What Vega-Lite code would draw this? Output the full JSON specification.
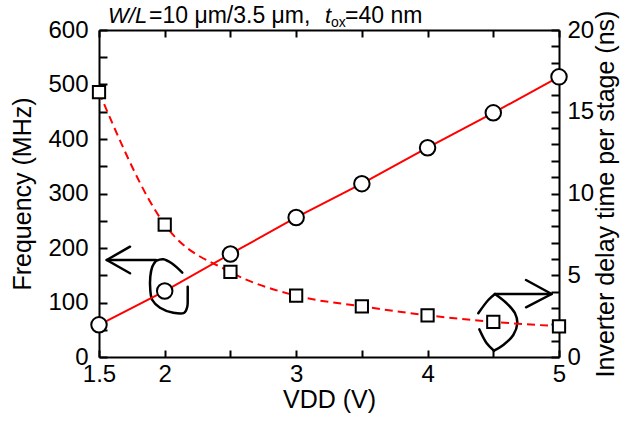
{
  "$schema": "https://vega.github.io/schema/vega-lite/v6.json",
  "width": 460,
  "height": 327,
  "autosize": {"type": "none"},
  "padding": {"left": 99, "top": 30, "right": 74, "bottom": 64},
  "background": "white",
  "config": {
    "view": {"stroke": null},
    "font": "Liberation Sans",
    "axis": {
      "domainColor": "black", "domainWidth": 2, "tickColor": "black", "tickWidth": 2,
      "labelColor": "black", "titleColor": "black", "labelFont": "Liberation Sans", "titleFont": "Liberation Sans",
      "labelFontSize": 24, "titleFontSize": 25, "titleFontWeight": "normal", "grid": false,
      "labelFlush": false, "labelOverlap": false
    }
  },
  "datasets": {
    "freq": [
      {"vdd": 1.5, "freq": 59}, {"vdd": 2, "freq": 121}, {"vdd": 2.5, "freq": 189}, {"vdd": 3, "freq": 256},
      {"vdd": 3.5, "freq": 318}, {"vdd": 4, "freq": 384}, {"vdd": 4.5, "freq": 448}, {"vdd": 5, "freq": 514}
    ],
    "delay": [
      {"vdd": 1.5, "delay": 16.2}, {"vdd": 2, "delay": 8.1}, {"vdd": 2.5, "delay": 5.2}, {"vdd": 3, "delay": 3.75},
      {"vdd": 3.5, "delay": 3.1}, {"vdd": 4, "delay": 2.55}, {"vdd": 4.5, "delay": 2.15}, {"vdd": 5, "delay": 1.88}
    ],
    "arrowsF": [
      {"path": "shaft", "seq": 0, "vdd": 1.5586, "freq": 178.0}, {"path": "shaft", "seq": 1, "vdd": 1.9337, "freq": 178.0},
      {"path": "head", "seq": 0, "vdd": 1.736, "freq": 202.4}, {"path": "head", "seq": 1, "vdd": 1.5586, "freq": 178.0}, {"path": "head", "seq": 2, "vdd": 1.736, "freq": 153.6}
    ],
    "curvesF": [
      {"path": "hook", "seq": 0, "vdd": 2.1338, "freq": 154.7}, {"path": "hook", "seq": 1, "vdd": 2.0531, "freq": 171.9},
      {"path": "hook", "seq": 2, "vdd": 1.9892, "freq": 179.3}, {"path": "hook", "seq": 3, "vdd": 1.9337, "freq": 176.7},
      {"path": "body", "seq": 0, "vdd": 1.9337, "freq": 176.7}, {"path": "body", "seq": 1, "vdd": 1.9055, "freq": 165.7},
      {"path": "body", "seq": 2, "vdd": 1.8903, "freq": 147.3}, {"path": "body", "seq": 3, "vdd": 1.8903, "freq": 122.9},
      {"path": "body", "seq": 4, "vdd": 1.9055, "freq": 104.6}, {"path": "body", "seq": 5, "vdd": 1.9641, "freq": 90.5},
      {"path": "body", "seq": 6, "vdd": 2.0653, "freq": 81.3}, {"path": "body", "seq": 7, "vdd": 2.149, "freq": 81.3},
      {"path": "body", "seq": 8, "vdd": 2.1718, "freq": 92.3}, {"path": "body", "seq": 9, "vdd": 2.1749, "freq": 110.6},
      {"path": "body", "seq": 10, "vdd": 2.1749, "freq": 129.0}
    ],
    "arrowsD": [
      {"path": "shaft", "seq": 0, "vdd": 4.513, "delay": 3.853}, {"path": "shaft", "seq": 1, "vdd": 4.9444, "delay": 3.853},
      {"path": "head", "seq": 0, "vdd": 4.7489, "delay": 4.709}, {"path": "head", "seq": 1, "vdd": 4.9444, "delay": 3.853}, {"path": "head", "seq": 2, "vdd": 4.7489, "delay": 3.04}
    ],
    "curvesD": [
      {"path": "upper", "seq": 0, "vdd": 4.3859, "delay": 2.673}, {"path": "upper", "seq": 1, "vdd": 4.462, "delay": 3.486}, {"path": "upper", "seq": 2, "vdd": 4.513, "delay": 3.853},
      {"path": "arc", "seq": 0, "vdd": 4.513, "delay": 3.853}, {"path": "arc", "seq": 1, "vdd": 4.6021, "delay": 3.284},
      {"path": "arc", "seq": 2, "vdd": 4.6652, "delay": 2.673}, {"path": "arc", "seq": 3, "vdd": 4.6827, "delay": 2.061},
      {"path": "arc", "seq": 4, "vdd": 4.6523, "delay": 1.346}, {"path": "arc", "seq": 5, "vdd": 4.5762, "delay": 0.734},
      {"path": "arc", "seq": 6, "vdd": 4.5054, "delay": 0.385},
      {"path": "lower", "seq": 0, "vdd": 4.5054, "delay": 0.385}, {"path": "lower", "seq": 1, "vdd": 4.4498, "delay": 0.838}, {"path": "lower", "seq": 2, "vdd": 4.3935, "delay": 1.694}
    ],
    "caption": [
      {"part": "it", "text": "W/L", "vdd": 1.5685, "freq": 612.9},
      {"part": "rm", "text": "=10 μm/3.5 μm,", "vdd": 1.8805, "freq": 612.9},
      {"part": "it", "text": "t", "vdd": 3.2196, "freq": 612.9},
      {"part": "sub", "text": "ox", "vdd": 3.2652, "freq": 605.5},
      {"part": "rm", "text": "=40 nm", "vdd": 3.3717, "freq": 612.9}
    ]
  },
  "layer": [
    {
      "encoding": {
        "x": {"field": "vdd", "type": "quantitative", "title": "VDD (V)",
          "scale": {"domain": [1.5, 5], "nice": false, "zero": false},
          "axis": {"orient": "bottom", "values": [1.5, 2, 2.5, 3, 3.5, 4, 4.5, 5], "tickSize": -7, "labelPadding": 12, "titlePadding": 1, "format": "~g",
            "labelExpr": "(datum.value == 1.5 || datum.value % 1 == 0) ? datum.label : ''"}},
        "y": {"field": "freq", "type": "quantitative", "title": "Frequency (MHz)",
          "scale": {"domain": [0, 600], "nice": false},
          "axis": {"orient": "left", "values": [0, 50, 100, 150, 200, 250, 300, 350, 400, 450, 500, 550, 600], "tickSize": -8, "labelPadding": 19, "titlePadding": 12,
            "labelExpr": "datum.value % 100 == 0 ? datum.label : ''"}}
      },
      "layer": [
        {
          "data": {"name": "arrowsF"},
          "mark": {"type": "line", "stroke": "black", "strokeWidth": 2.5, "strokeCap": "round", "strokeJoin": "round"},
          "encoding": {"detail": {"field": "path"}, "order": {"field": "seq"}}
        },
        {
          "data": {"name": "curvesF"},
          "mark": {"type": "line", "stroke": "black", "strokeWidth": 2.5, "strokeCap": "round", "strokeJoin": "round", "interpolate": "catmull-rom"},
          "encoding": {"detail": {"field": "path"}, "order": {"field": "seq"}}
        },
        {
          "data": {"name": "freq"},
          "mark": {"type": "line", "stroke": "red", "strokeWidth": 2},
          "encoding": {}
        },
        {
          "data": {"name": "freq"},
          "mark": {"type": "point", "shape": "circle", "size": 240, "filled": true, "fill": "white", "fillOpacity": 1, "stroke": "black", "strokeWidth": 2, "opacity": 1}
        },
        {
          "data": {"name": "caption"},
          "transform": [{"filter": "datum.part == 'it'"}],
          "mark": {"type": "text", "align": "left", "baseline": "alphabetic", "fontSize": 22, "fontStyle": "italic", "color": "black"},
          "encoding": {"text": {"field": "text"}}
        },
        {
          "data": {"name": "caption"},
          "transform": [{"filter": "datum.part == 'rm'"}],
          "mark": {"type": "text", "align": "left", "baseline": "alphabetic", "fontSize": 23, "color": "black"},
          "encoding": {"text": {"field": "text"}}
        },
        {
          "data": {"name": "caption"},
          "transform": [{"filter": "datum.part == 'sub'"}],
          "mark": {"type": "text", "align": "left", "baseline": "alphabetic", "fontSize": 14, "color": "black"},
          "encoding": {"text": {"field": "text"}}
        }
      ]
    },
    {
      "encoding": {
        "x": {"field": "vdd", "type": "quantitative", "title": null,
          "axis": {"orient": "top", "values": [1.5, 2, 2.5, 3, 3.5, 4, 4.5, 5], "tickSize": -7, "labels": false}},
        "y": {"field": "delay", "type": "quantitative", "title": "Inverter delay time per stage (ns)",
          "scale": {"domain": [0, 20], "nice": false},
          "axis": {"orient": "right", "values": [0, 1, 2, 3, 4, 5, 6, 7, 8, 9, 10, 11, 12, 13, 14, 15, 16, 17, 18, 19, 20], "tickSize": -8, "labelPadding": 16, "titlePadding": 0, "titleAngle": 270, "titleBaseline": "top",
            "labelExpr": "datum.value % 5 == 0 ? datum.label : ''"}}
      },
      "layer": [
        {
          "data": {"name": "arrowsD"},
          "mark": {"type": "line", "stroke": "black", "strokeWidth": 2.5, "strokeCap": "round", "strokeJoin": "round"},
          "encoding": {"detail": {"field": "path"}, "order": {"field": "seq"}}
        },
        {
          "data": {"name": "curvesD"},
          "mark": {"type": "line", "stroke": "black", "strokeWidth": 2.5, "strokeCap": "round", "strokeJoin": "round", "interpolate": "catmull-rom"},
          "encoding": {"detail": {"field": "path"}, "order": {"field": "seq"}}
        },
        {
          "data": {"name": "delay"},
          "mark": {"type": "line", "stroke": "red", "strokeWidth": 2, "strokeDash": [8, 5], "interpolate": "monotone"},
          "encoding": {}
        },
        {
          "data": {"name": "delay"},
          "mark": {"type": "point", "shape": "square", "size": 150, "filled": true, "fill": "white", "fillOpacity": 1, "stroke": "black", "strokeWidth": 2, "opacity": 1}
        }
      ]
    }
  ],
  "resolve": {"scale": {"y": "independent"}}
}
